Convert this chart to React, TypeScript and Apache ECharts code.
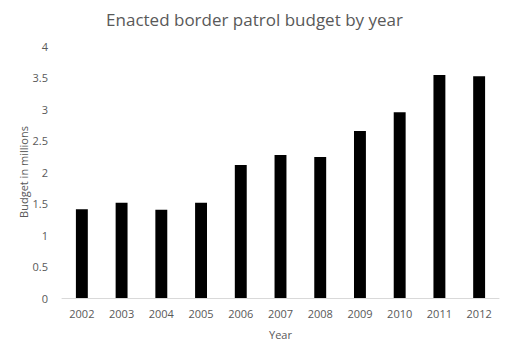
import React, { useEffect, useRef } from "react";
import * as echarts from "echarts";

const years = ["2002", "2003", "2004", "2005", "2006", "2007", "2008", "2009", "2010", "2011", "2012"];
const budget = [1.41, 1.51, 1.4, 1.51, 2.11, 2.27, 2.24, 2.65, 2.95, 3.54, 3.52];

export default function App() {
  const ref = useRef<HTMLDivElement>(null);
  useEffect(() => {
    const chart = echarts.init(ref.current!, null, { renderer: "svg" });
    const font = "Open Sans";
    chart.setOption({
      animation: false,
      backgroundColor: "#ffffff",
      title: {
        text: "Enacted border patrol budget by year",
        left: "center",
        top: 6,
        textStyle: { fontFamily: font, fontSize: 17, fontWeight: "normal", color: "#595959" },
      },
      grid: { left: 62, right: 10, top: 46, bottom: 56 },
      xAxis: {
        type: "category",
        data: years,
        name: "Year",
        nameLocation: "middle",
        nameGap: 31,
        nameTextStyle: { fontFamily: font, fontSize: 11, color: "#595959" },
        axisLine: { lineStyle: { color: "#d9d9d9" } },
        axisTick: { show: false },
        axisLabel: { fontFamily: font, fontSize: 11, color: "#595959", margin: 10 },
      },
      yAxis: {
        type: "value",
        min: 0,
        max: 4,
        interval: 0.5,
        name: "Budget in millions",
        nameLocation: "middle",
        nameGap: 33,
        nameMoveOverlap: false,
        nameTextStyle: { fontFamily: font, fontSize: 11, color: "#595959" },
        splitLine: { show: false },
        axisLine: { show: false },
        axisTick: { show: false },
        axisLabel: { fontFamily: font, fontSize: 11, color: "#595959", margin: 14 },
      },
      series: [
        {
          type: "bar",
          data: budget,
          barWidth: "30%",
          itemStyle: { color: "#000000" },
        },
      ],
    });
    return () => chart.dispose();
  }, []);
  return <div ref={ref} style={{ width: 509, height: 354, position: "absolute", left: 0, top: 0 }} />;
}
